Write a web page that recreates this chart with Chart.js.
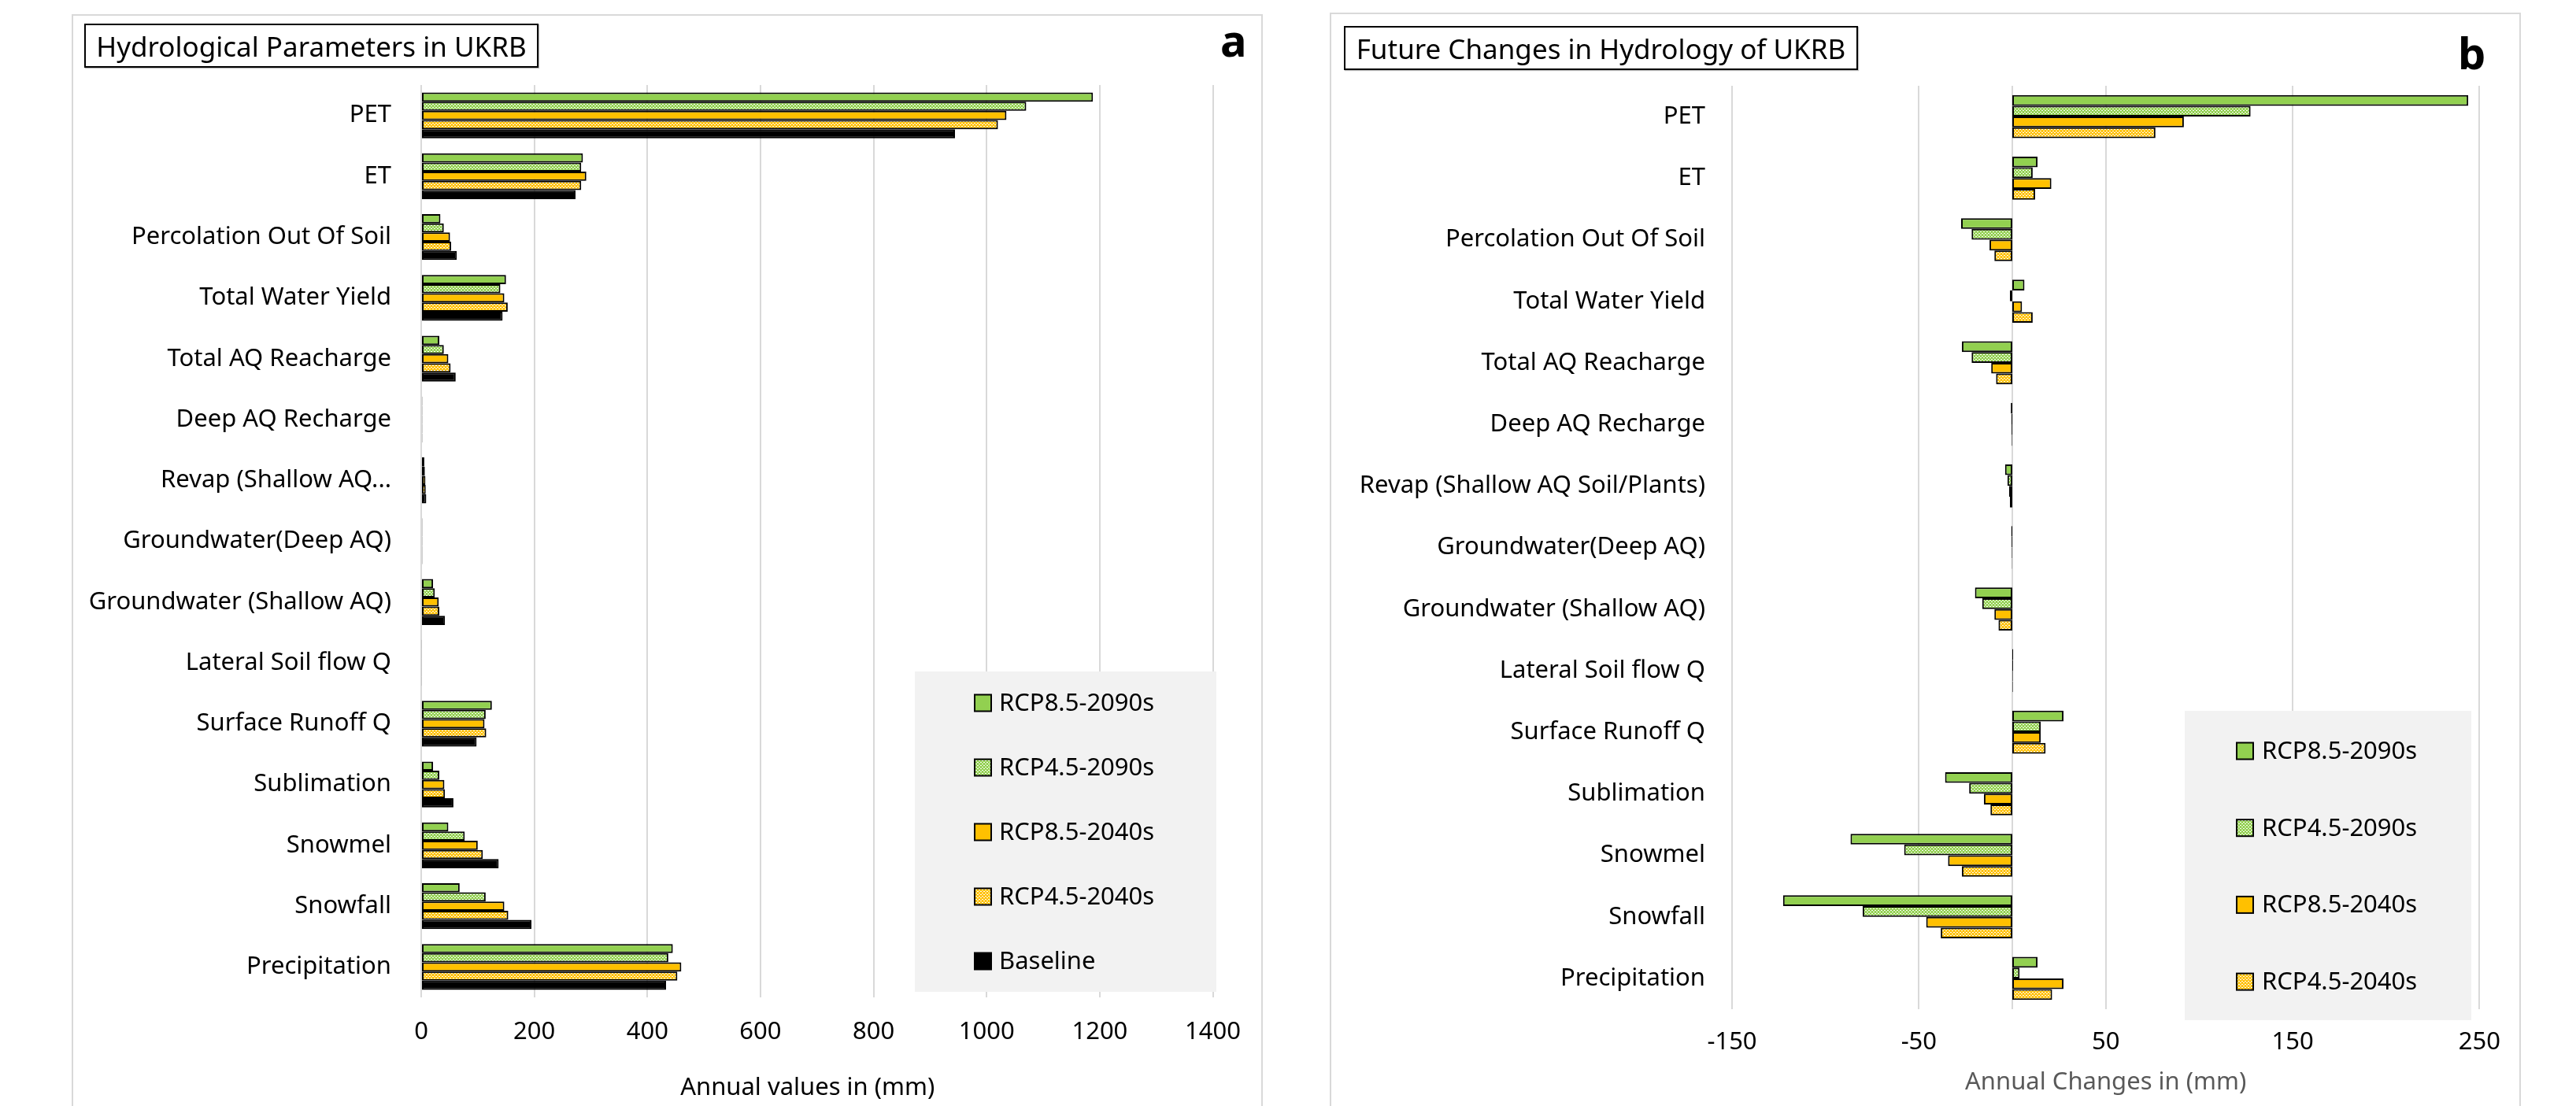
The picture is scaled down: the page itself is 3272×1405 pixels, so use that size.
<!DOCTYPE html>
<html>
<head>
<meta charset="utf-8">
<title>Hydrology of UKRB</title>
<script src="https://cdn.jsdelivr.net/npm/chart.js@4.4.1/dist/chart.umd.min.js"></script>
<style>
  html, body { margin: 0; padding: 0; background: #fff; }
  body { position: relative; width: 3272px; height: 1405px; overflow: hidden; font-family: "Noto Sans", sans-serif; }
  .frame { position: absolute; box-sizing: border-box; border: 2px solid #d9d9d9; background: #fff; }
  .panel-canvas { position: absolute; }
  .title-box { position: absolute; box-sizing: border-box; border: 2px solid #000; display: flex; align-items: center; justify-content: center; font-size: 35px; color: #000; white-space: nowrap; box-shadow: 1px 1px 1px rgba(0,0,0,0.25); background: #fff; }
  .letter { position: absolute; font-size: 56px; font-weight: bold; line-height: 1; color: #000; }
</style>
</head>
<body>
<div class="frame" style="left:91px; top:18px; width:1513px; height:1500px;"></div>
<div class="frame" style="left:1689px; top:16px; width:1513px; height:1500px;"></div>

<canvas id="chartA" class="panel-canvas" width="1509" height="1385" style="left:93px; top:20px;"></canvas>
<canvas id="chartB" class="panel-canvas" width="1509" height="1387" style="left:1691px; top:18px;"></canvas>

<div class="title-box" style="left:107px; top:30px; width:577px; height:56px;">Hydrological Parameters in UKRB</div>
<div class="letter" style="left:1550px; top:22px;">a</div>
<div class="title-box" style="left:1707px; top:33px; width:653px; height:56px;">Future Changes in Hydrology of UKRB</div>
<div class="letter" style="left:3122px; top:38px;">b</div>

<script>
// Hydrological components, listed top to bottom
const parametersA = [
  'PET', 'ET', 'Percolation Out Of Soil', 'Total Water Yield', 'Total AQ Reacharge',
  'Deep AQ Recharge', 'Revap (Shallow AQ...', 'Groundwater(Deep AQ)', 'Groundwater (Shallow AQ)',
  'Lateral Soil flow Q', 'Surface Runoff Q', 'Sublimation', 'Snowmel', 'Snowfall', 'Precipitation'
];
const parametersB = [
  'PET', 'ET', 'Percolation Out Of Soil', 'Total Water Yield', 'Total AQ Reacharge',
  'Deep AQ Recharge', 'Revap (Shallow AQ Soil/Plants)', 'Groundwater(Deep AQ)', 'Groundwater (Shallow AQ)',
  'Lateral Soil flow Q', 'Surface Runoff Q', 'Sublimation', 'Snowmel', 'Snowfall', 'Precipitation'
];

const scenarioNames = ['RCP8.5-2090s', 'RCP4.5-2090s', 'RCP8.5-2040s', 'RCP4.5-2040s', 'Baseline'];

// Annual values (mm)
const annualRcp85_2090 = [1188, 286, 34, 150, 32, 2, 5.5, 2, 21, 1, 125, 21, 48, 68, 445];
const annualRcp45_2090 = [1070, 283, 40, 140, 40, 2, 6.5, 2, 24, 1, 114, 32, 77, 114, 437];
const annualRcp85_2040 = [1035, 292, 51, 147, 48, 2, 7.5, 2, 31, 1, 112, 41, 100, 147, 460];
const annualRcp45_2040 = [1020, 283, 53, 153, 52, 2, 8, 2, 32, 1, 115, 42, 109, 154, 453];
const annualBaseline   = [944, 273, 63, 144, 61, 2, 9, 2, 42, 1, 98, 57, 137, 195, 433];

// Annual changes against the baseline (mm)
const changeRcp85_2090 = [244, 13.5, -27.4, 6.5, -27, -0.8, -3.9, -0.6, -20, 0.5, 27.4, -36, -86.6, -122.7, 13.5];
const changeRcp45_2090 = [127.5, 10.9, -21.8, -1.3, -21.8, -0.5, -2.6, -0.4, -16.1, 0.4, 15.2, -23.1, -57.9, -80.1, 3.9];
const changeRcp85_2040 = [91.8, 20.9, -12.2, 5.2, -11.3, -0.4, -1.7, -0.3, -9.6, 0.3, 15.2, -15.2, -34.4, -46.1, 27.4];
const changeRcp45_2040 = [76.6, 12.2, -9.6, 10.9, -8.7, -0.3, -1.3, -0.2, -7.4, 0.3, 17.8, -11.7, -27, -38.3, 21.3];

// Axis settings
const annualAxis = { min: 0, max: 1400, step: 200 };
const changeAxis = { min: -150, max: 250, step: 100 };

const GREEN = '#92d050';
const GOLD = '#ffc000';
const FONT = '"Noto Sans", sans-serif';

// Dotted fill used for the RCP4.5 series
function dottedFill(color) {
  const tile = document.createElement('canvas');
  tile.width = 4; tile.height = 4;
  const g = tile.getContext('2d');
  g.fillStyle = color;
  g.fillRect(0, 0, 4, 4);
  g.fillStyle = '#ffffff';
  g.fillRect(0, 0, 2, 1);
  g.fillRect(2, 2, 2, 1);
  return g.createPattern(tile, 'repeat');
}

// Shaded legend box placed inside the plot
const boxLegend = {
  id: 'boxLegend',
  afterDraw(chart, args, o) {
    const ctx = chart.ctx;
    ctx.save();
    ctx.fillStyle = '#f2f2f2';
    ctx.fillRect(o.x, o.y, o.w, o.h);
    ctx.font = `${o.fontSize}px ${FONT}`;
    ctx.textBaseline = 'middle';
    ctx.textAlign = 'left';
    chart.data.datasets.forEach((ds, i) => {
      const cy = o.firstRow + i * o.rowStep;
      ctx.fillStyle = ds.backgroundColor;
      ctx.fillRect(o.markerX, cy - o.marker / 2, o.marker, o.marker);
      ctx.lineWidth = 2;
      ctx.strokeStyle = '#000';
      ctx.strokeRect(o.markerX, cy - o.marker / 2, o.marker, o.marker);
      ctx.fillStyle = '#000';
      ctx.fillText(ds.label, o.textX, cy + 1);
    });
    ctx.restore();
  }
};

// Caption under the value axis
const axisCaption = {
  id: 'axisCaption',
  afterDraw(chart, args, o) {
    const a = chart.chartArea;
    const ctx = chart.ctx;
    ctx.save();
    ctx.font = `${o.fontSize}px ${FONT}`;
    ctx.fillStyle = o.color;
    ctx.textAlign = 'center';
    ctx.textBaseline = 'middle';
    ctx.fillText(o.text, (a.left + a.right) / 2 + (o.dx || 0), a.bottom + o.offset);
    ctx.restore();
  }
};

// Vertical axis line at zero
const zeroLine = {
  id: 'zeroLine',
  beforeDatasetsDraw(chart, args, o) {
    if (!o.show) return;
    const x = chart.scales.x.getPixelForValue(0);
    const a = chart.chartArea;
    const ctx = chart.ctx;
    ctx.save();
    ctx.strokeStyle = o.color;
    ctx.lineWidth = 2;
    ctx.beginPath();
    ctx.moveTo(x, a.top);
    ctx.lineTo(x, a.bottom);
    ctx.stroke();
    ctx.restore();
  }
};

function barSet(label, data, fill) {
  return {
    label, data,
    backgroundColor: fill,
    borderColor: '#000',
    borderWidth: 2,
    borderSkipped: false,
    barPercentage: 1.0
  };
}

function buildOptions(cfg) {
  return {
    indexAxis: 'y',
    responsive: false,
    animation: false,
    events: [],
    datasets: { bar: { categoryPercentage: cfg.groupShare } },
    layout: { padding: { top: cfg.padTop, right: cfg.padRight, left: 0, bottom: 0 } },
    plugins: {
      legend: { display: false },
      tooltip: { enabled: false },
      title: { display: false },
      boxLegend: cfg.legend,
      axisCaption: cfg.caption,
      zeroLine: { show: cfg.zero, color: '#d9d9d9' }
    },
    scales: {
      x: {
        type: 'linear',
        min: cfg.axis.min,
        max: cfg.axis.max,
        ticks: {
          stepSize: cfg.axis.step,
          font: { family: FONT, size: 31 },
          color: '#000',
          padding: cfg.tickPad,
          maxRotation: 0,
          callback: (v) => String(v)
        },
        grid: { color: '#d9d9d9', lineWidth: 2, drawTicks: false },
        border: { display: false },
        afterFit(s) { s.height = cfg.xHeight; }
      },
      y: {
        type: 'category',
        ticks: { font: { family: FONT, size: 31 }, color: '#000', padding: cfg.labelPad, autoSkip: false },
        grid: { display: false, drawTicks: false },
        border: { display: false },
        afterFit(s) { s.width = cfg.yWidth; }
      }
    }
  };
}

function draw() {
  const green45 = dottedFill(GREEN);
  const gold45 = dottedFill(GOLD);

  new Chart(document.getElementById('chartA'), {
    type: 'bar',
    data: {
      labels: parametersA,
      datasets: [
        barSet(scenarioNames[0], annualRcp85_2090, GREEN),
        barSet(scenarioNames[1], annualRcp45_2090, green45),
        barSet(scenarioNames[2], annualRcp85_2040, GOLD),
        barSet(scenarioNames[3], annualRcp45_2040, gold45),
        barSet(scenarioNames[4], annualBaseline, '#000')
      ]
    },
    plugins: [boxLegend, axisCaption, zeroLine],
    options: buildOptions({
      axis: annualAxis,
      groupShare: 0.755,
      padTop: 88, padRight: 56,
      xHeight: 138, yWidth: 442,
      tickPad: 26, labelPad: 38,
      zero: false,
      legend: { x: 1069, y: 833, w: 383, h: 407, markerX: 1145, marker: 21, firstRow: 873, rowStep: 82, textX: 1176, fontSize: 31 },
      caption: { text: 'Annual values in (mm)', color: '#000', fontSize: 31, offset: 115, dx: -12 }
    })
  });

  new Chart(document.getElementById('chartB'), {
    type: 'bar',
    data: {
      labels: parametersB,
      datasets: [
        barSet(scenarioNames[0], changeRcp85_2090, GREEN),
        barSet(scenarioNames[1], changeRcp45_2090, green45),
        barSet(scenarioNames[2], changeRcp85_2040, GOLD),
        barSet(scenarioNames[3], changeRcp45_2040, gold45)
      ]
    },
    plugins: [boxLegend, axisCaption, zeroLine],
    options: buildOptions({
      axis: changeAxis,
      groupShare: 0.70,
      padTop: 91, padRight: 43,
      xHeight: 123, yWidth: 509,
      tickPad: 24, labelPad: 34,
      zero: true,
      legend: { x: 1084, y: 885, w: 364, h: 393, markerX: 1150, marker: 21, firstRow: 936, rowStep: 97.7, textX: 1182, fontSize: 31 },
      caption: { text: 'Annual Changes in (mm)', color: '#595959', fontSize: 31, offset: 93, dx: 0 }
    })
  });
}

const fontReady = (document.fonts && document.fonts.load)
  ? Promise.all([document.fonts.load('31px "Noto Sans"'), document.fonts.load('bold 56px "Noto Sans"')]).catch(() => {})
  : Promise.resolve();
fontReady.then(draw, draw);
</script>
</body>
</html>
